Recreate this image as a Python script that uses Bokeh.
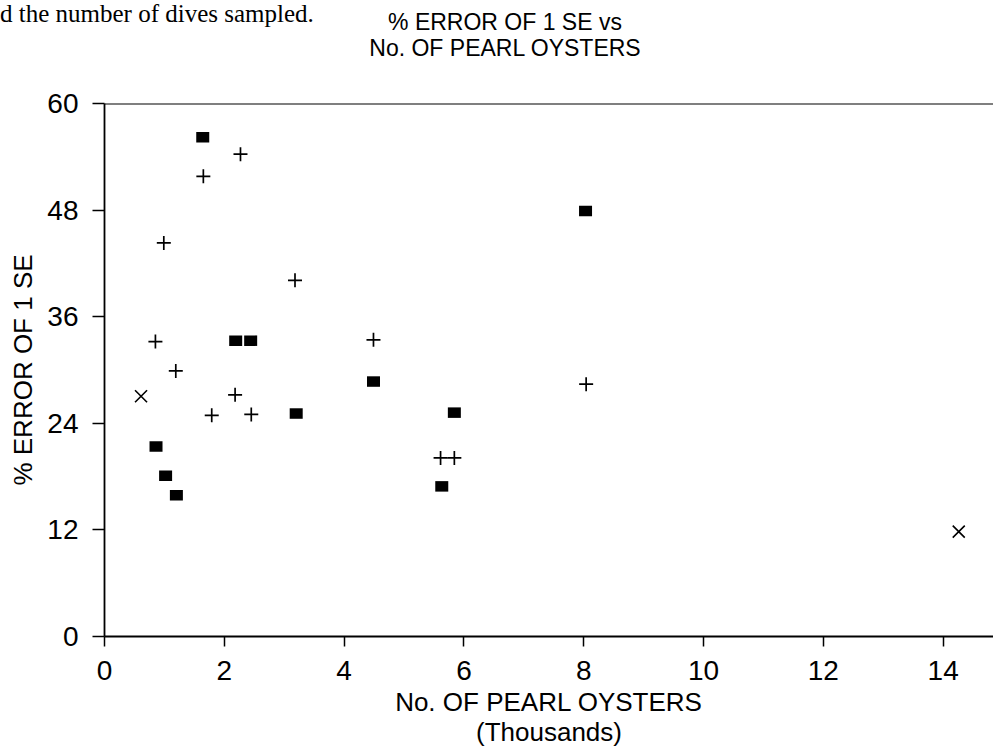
from bokeh.plotting import figure
from bokeh.models import Range1d, FixedTicker, Span, Div
from bokeh.layouts import column
from bokeh.embed import file_html
from bokeh.resources import INLINE

# Series drawn as filled black rectangles
rect_x = [1.64, 2.19, 2.44, 4.49, 3.20, 0.86, 1.02, 1.20, 5.84, 5.63, 8.03]
rect_y = [56.2, 33.3, 33.3, 28.7, 25.1, 21.4, 18.1, 15.9, 25.2, 16.9, 47.9]

# Series drawn as "+" crosses
plus_x = [2.27, 1.65, 0.99, 3.18, 0.85, 4.49, 1.19, 2.18, 1.79, 2.45, 8.04, 5.61, 5.84]
plus_y = [54.3, 51.8, 44.3, 40.1, 33.2, 33.4, 29.9, 27.2, 24.9, 25.0, 28.4, 20.1, 20.1]

# Series drawn as "x" marks
xmark_x = [0.61, 14.26]
xmark_y = [27.05, 11.8]

x_ticks = [0, 2, 4, 6, 8, 10, 12, 14]
y_ticks = [0, 12, 24, 36, 48, 60]

title_lines = ["% ERROR OF 1 SE vs", "No. OF PEARL OYSTERS"]
x_label = "No. OF PEARL OYSTERS\n(Thousands)"
y_label = "% ERROR OF 1 SE"
stray_text = "d the number of dives sampled."

FONT = "Liberation Sans"

# ---- header (text above the plot frame) ----
header_html = (
    '<div style="position:relative;width:993px;height:80px;overflow:hidden;">'
    '<div style="position:absolute;left:0px;top:0px;white-space:nowrap;'
    'font-family:\'Liberation Serif\';font-size:25px;line-height:28px;color:black;">'
    + stray_text +
    '</div>'
    '<div style="position:absolute;left:255px;top:9px;width:500px;text-align:center;'
    'white-space:nowrap;font-family:\'Liberation Sans\';font-size:23px;line-height:26px;color:black;">'
    '<div>' + title_lines[0] + '</div><div>' + title_lines[1] + '</div>'
    '</div></div>'
)
header = Div(text=header_html, width=993, height=80, margin=(0, 0, 0, 0))

# ---- plot ----
p = figure(width=993, height=675, output_backend="svg", toolbar_location=None,
           x_range=Range1d(0, 14.84), y_range=Range1d(0, 60),
           min_border_left=104, min_border_right=0, min_border_top=23,
           min_border_bottom=119, margin=(0, 0, 0, 0))

p.xgrid.visible = False
p.ygrid.visible = False
p.outline_line_color = None
p.background_fill_color = "white"
p.border_fill_color = "white"

p.add_layout(Span(location=60, dimension="width", line_color="black", line_width=2))

p.xaxis.ticker = FixedTicker(ticks=x_ticks)
p.yaxis.ticker = FixedTicker(ticks=y_ticks)
p.xaxis.axis_label = x_label
p.yaxis.axis_label = y_label

for ax in (p.xaxis[0], p.yaxis[0]):
    ax.axis_line_color = "black"
    ax.axis_line_width = 1.8
    ax.major_tick_line_color = "black"
    ax.major_tick_line_width = 1.5
    ax.major_tick_in = 0
    ax.minor_tick_in = 0
    ax.minor_tick_out = 0
    ax.major_label_text_font = FONT
    ax.major_label_text_font_size = "28px"
    ax.major_label_text_color = "black"
    ax.axis_label_text_font = FONT
    ax.axis_label_text_font_size = "26px"
    ax.axis_label_text_font_style = "normal"
    ax.axis_label_text_color = "black"
    ax.axis_label_text_line_height = 1.0

p.xaxis.major_tick_out = 10
p.xaxis.major_label_standoff = 14
p.xaxis.axis_label_standoff = 4
p.yaxis.major_tick_out = 12
p.yaxis.major_label_standoff = 14
p.yaxis.axis_label_standoff = 6

p.rect(rect_x, rect_y, width=13, height=10.5, width_units="screen",
       height_units="screen", fill_color="black", line_color=None)
p.scatter(plus_x, plus_y, marker="cross", size=14, line_color="black", line_width=1.7)
p.scatter(xmark_x, xmark_y, marker="x", size=17, line_color="black", line_width=1.6)

layout = column(header, p, spacing=0, margin=(0, 0, 0, 0))

open("out.html", "w").write(file_html(layout, INLINE))
